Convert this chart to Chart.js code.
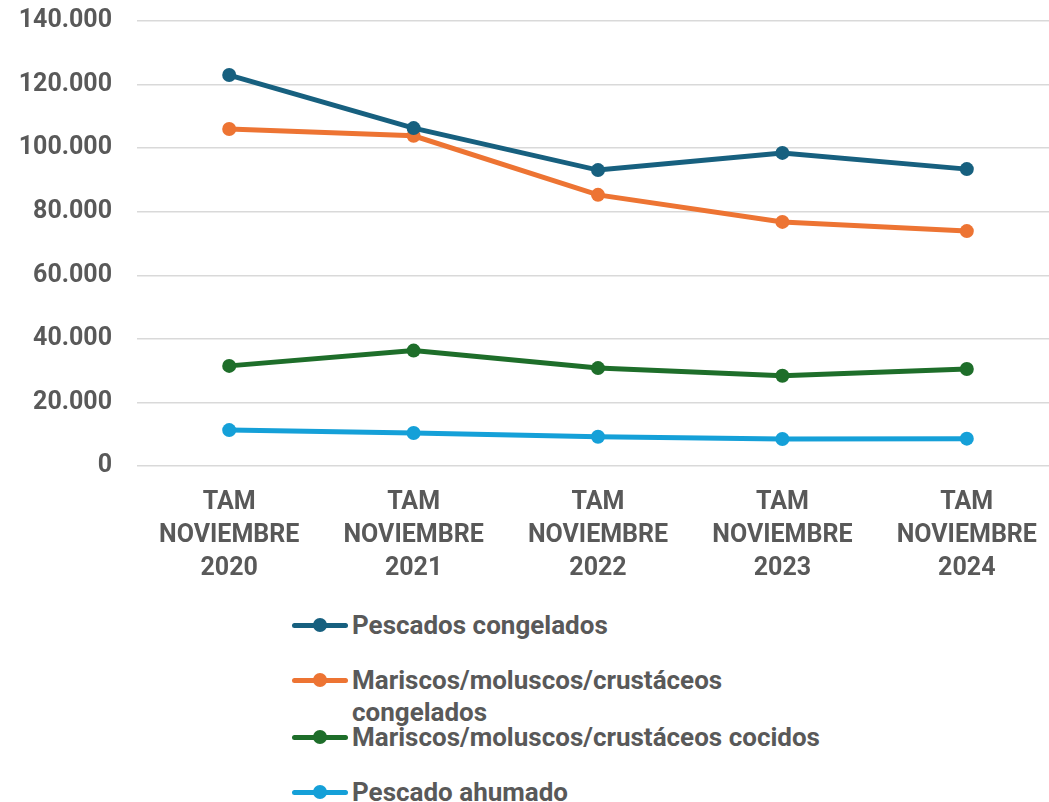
<!DOCTYPE html>
<html>
<head>
<meta charset="utf-8">
<script src="https://cdn.jsdelivr.net/npm/chart.js@4/dist/chart.umd.min.js"></script>
<style>
html,body{margin:0;padding:0;background:#fff;overflow:hidden;width:1049px;height:802px;}
#wrap{position:absolute;left:0;top:0;width:1066px;height:600px;}
#legend{position:absolute;left:292px;top:0;font-family:Roboto,"Noto Sans",sans-serif;font-weight:700;font-size:26px;color:#595959;}
.item{position:absolute;left:0;white-space:nowrap;line-height:32px;}
.mk{position:absolute;left:0;width:56px;height:5px;border-radius:3px;}
.dot{position:absolute;left:21px;width:14px;height:14px;border-radius:50%;}
.txt{position:absolute;left:60px;}
</style>
</head>
<body>
<div id="wrap"><canvas id="c" width="1066" height="600"></canvas></div>
<div id="legend"></div>
<script>
const categories = [
  ['TAM','NOVIEMBRE','2020'],
  ['TAM','NOVIEMBRE','2021'],
  ['TAM','NOVIEMBRE','2022'],
  ['TAM','NOVIEMBRE','2023'],
  ['TAM','NOVIEMBRE','2024']
];
const seriesNames = [
  'Pescados congelados',
  'Mariscos/moluscos/crustáceos congelados',
  'Mariscos/moluscos/crustáceos cocidos',
  'Pescado ahumado'
];
const pescadosCongelados = [123000, 106300, 93100, 98500, 93400];
const mariscosCongelados = [106000, 103900, 85300, 76800, 73900];
const mariscosCocidos = [31500, 36300, 30800, 28400, 30500];
const pescadoAhumado = [11300, 10400, 9200, 8500, 8600];
const colors = ['#17607F', '#ED7433', '#1E6E2A', '#15A0D8'];
const yTicks = { min: 0, max: 140000, step: 20000 };

const font = 'Roboto, "Noto Sans", sans-serif';
const allData = [pescadosCongelados, mariscosCongelados, mariscosCocidos, pescadoAhumado];

function fmt(v){
  return String(Math.round(v)).replace(/\B(?=(\d{3})+(?!\d))/g, '.');
}

const chart = new Chart(document.getElementById('c'), {
  type: 'line',
  data: {
    labels: categories,
    datasets: allData.map((d,i)=>({
      label: seriesNames[i],
      data: d,
      borderColor: colors[i],
      backgroundColor: colors[i],
      borderWidth: 5,
      pointRadius: 7,
      pointHoverRadius: 7,
      pointBorderWidth: 0,
      tension: 0
    }))
  },
  options: {
    responsive: false,
    animation: false,
    devicePixelRatio: 1,
    layout: { padding: { top: 21, left: 0, right: 0, bottom: 0 } },
    plugins: { legend: { display: false }, tooltip: { enabled: false } },
    scales: {
      x: {
        offset: true,
        grid: { display: false, drawTicks: false },
        border: { display: false },
        ticks: {
          color: '#595959',
          font: { family: font, size: 25, weight: '700', lineHeight: 1.32 },
          padding: 20,
          maxRotation: 0,
          autoSkip: false
        },
        afterFit(s){ s.height = 134; s.paddingLeft = 0; s.paddingRight = 0; }
      },
      y: {
        min: yTicks.min, max: yTicks.max,
        grid: { color: '#D9D9D9', lineWidth: 1.5, drawTicks: false },
        border: { display: false },
        ticks: {
          stepSize: yTicks.step,
          color: '#595959',
          font: { family: font, size: 25, weight: '700' },
          padding: 25,
          callback: v => fmt(v)
        },
        afterFit(s){ s.width = 137; s.paddingTop = 0; s.paddingBottom = 0; }
      }
    }
  }
});

// HTML legend built from chart datasets
const legendRows = [
  { top: 609, lines: ['Pescados congelados'] },
  { top: 664, lines: ['Mariscos/moluscos/crustáceos', 'congelados'] },
  { top: 721, lines: ['Mariscos/moluscos/crustáceos cocidos'] },
  { top: 776, lines: ['Pescado ahumado'] }
];
const lg = document.getElementById('legend');
chart.data.datasets.forEach((ds,i)=>{
  const r = legendRows[i];
  const it = document.createElement('div');
  it.className = 'item';
  it.style.top = r.top + 'px';
  const mk = document.createElement('div'); mk.className='mk'; mk.style.background = ds.borderColor; mk.style.top = '14px';
  const dot = document.createElement('div'); dot.className='dot'; dot.style.background = ds.borderColor; dot.style.top = '9px';
  const tx = document.createElement('div'); tx.className='txt'; tx.innerHTML = r.lines.join('<br>');
  it.appendChild(mk); it.appendChild(dot); it.appendChild(tx);
  lg.appendChild(it);
});
</script>
</body>
</html>
